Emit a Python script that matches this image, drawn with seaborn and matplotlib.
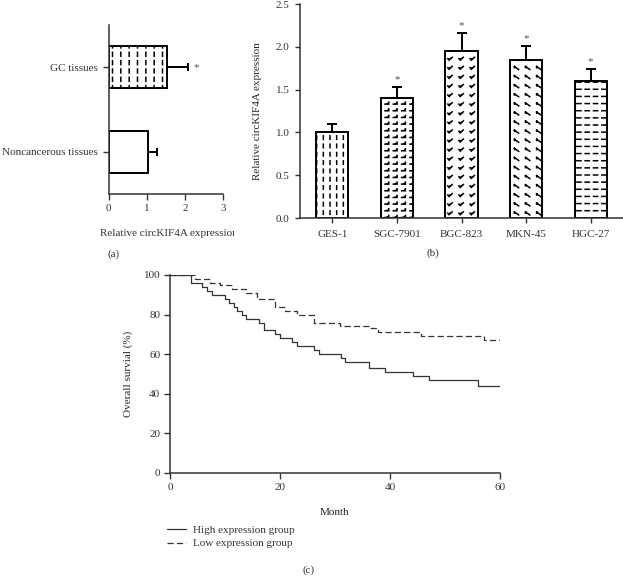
import matplotlib
matplotlib.use("Agg")
import matplotlib.pyplot as plt
import matplotlib.hatch as mhatch
from matplotlib.path import Path
from matplotlib.transforms import Bbox, TransformedBbox
import numpy as np
import pandas as pd
import seaborn as sns

# ---- data ----
tissues = ["GC tissues", "Noncancerous tissues"]
tissue_mean = [1.52, 1.04]
tissue_err = [0.55, 0.22]
tissue_star = [True, False]

cell_lines = ["GES-1", "SGC-7901", "BGC-823", "MKN-45", "HGC-27"]
cell_mean = [1.0, 1.40, 1.95, 1.85, 1.60]
cell_err = [0.10, 0.13, 0.21, 0.16, 0.14]
cell_star = [False, True, True, True, True]

high_month = [0, 3.8, 5.8, 6.7, 7.6, 10.0, 10.7, 11.7, 12.1, 13.0, 13.9, 16.1, 17.0,
              19.1, 20.0, 22.1, 23.0, 26.1, 27.0, 31.0, 31.9, 36.1, 39.1, 44.1, 47.0, 56.0, 60]
high_surv = [100, 96, 94, 92, 90, 88, 86, 84, 82, 80, 78, 76, 72,
             70, 68, 66, 64, 62, 60, 58, 56, 53, 51, 49, 47, 44, 44]
low_month = [0, 4.5, 7.2, 9.0, 11.3, 13.9, 15.8, 19.1, 20.9, 23.0, 26.1, 30.9, 36.1,
             37.9, 45.7, 57.0, 60]
low_surv = [100, 98, 96, 95, 93, 91, 88, 84, 82, 80, 76, 74, 73,
            71, 69, 67, 67]
groups = ["High expression group", "Low expression group"]


# ---- custom dash-like hatches (replace the built-in hatch set) ----
def make_hatch(char, ncols, nrows, strokes):
    class _Hatch(mhatch.HatchPatternBase):
        def __init__(self, hatch, density):
            self.num_vertices = 0
            if hatch and char in hatch:
                self.num_vertices = ncols * nrows * sum(len(s) for s in strokes)

        def set_vertices_and_codes(self, vertices, codes):
            vv, cc = [], []
            for i in range(ncols):
                for j in range(nrows):
                    for s in strokes:
                        for k, (u, v) in enumerate(s):
                            vv.append(((i + u) / ncols, (j + v) / nrows))
                            cc.append(Path.MOVETO if k == 0 else Path.LINETO)
            vertices[:] = vv
            codes[:] = cc
    return _Hatch


mhatch._hatch_types = [
    make_hatch("|", 12, 12, [[(0.5, 0.25), (0.5, 0.72)]]),                       # GC tissues
    make_hatch(".", 15, 12, [[(0.5, 0.28), (0.5, 0.7)]]),                        # GES-1
    make_hatch("+", 12, 15, [[(0.2, 0.38), (0.65, 0.38), (0.65, 0.68)]]),       # SGC-7901
    make_hatch("/", 9, 11, [[(0.3, 0.55), (0.42, 0.38), (0.7, 0.7)]]),          # BGC-823
    make_hatch("\\", 9, 11, [[(0.3, 0.68), (0.68, 0.35)], [(0.3, 0.68), (0.3, 0.55)]]),  # MKN-45
    make_hatch("-", 12, 14, [[(0.22, 0.5), (0.72, 0.5)]]),                       # HGC-27
]

sns.set_style("ticks")
plt.rcParams["font.family"] = ["Liberation Serif", "DejaVu Serif"]
plt.rcParams["hatch.linewidth"] = 1.1
plt.rcParams["axes.edgecolor"] = "#333333"
plt.rcParams["xtick.color"] = "#333333"
plt.rcParams["ytick.color"] = "#333333"
plt.rcParams["text.color"] = "#333333"

W, H = 623, 576
fig = plt.figure(figsize=(W / 100, H / 100), dpi=100)


def px_axes(left, top, right, bottom):
    return fig.add_axes([left / W, 1 - bottom / H, (right - left) / W, (bottom - top) / H])


fs = 8

# ---- (a) tissues ----
ax_a = px_axes(108.5, 25, 223, 194)
sns.barplot(x=tissue_mean, y=tissues, orient="h", color="white", edgecolor="black",
            linewidth=1.4, width=0.5, errorbar=None, ax=ax_a)
pos_a = np.arange(len(tissues))
ax_a.errorbar(tissue_mean, pos_a, xerr=[np.zeros(len(tissues)), tissue_err], fmt="none",
              ecolor="black", elinewidth=1.4, capsize=3, capthick=1.4)
for p, h in zip(ax_a.patches, ["|", ""]):
    p.set_hatch(h)
for i, s in enumerate(tissue_star):
    if s:
        ax_a.annotate("*", (tissue_mean[i] + tissue_err[i], pos_a[i]), xytext=(4, 0),
                      textcoords="offset points", ha="left", va="center", fontsize=fs, color="#555555")
ax_a.set_xlim(0, 3)
ax_a.set_ylim(1.5, -0.5)
ax_a.set_xticks([0, 1, 2, 3])
ax_a.set_xlabel("")
ax_a.set_ylabel("")
ax_a.tick_params(labelsize=fs, length=4, width=1, pad=3.5)
sns.despine(ax=ax_a)
for sp in ax_a.spines.values():
    sp.set_linewidth(1.1)

lab = fig.text(100 / W, 1 - 234 / H, "Relative circKIF4A expression", ha="left", va="center",
               fontsize=fs)
lab.set_clip_on(True)
lab.set_clip_box(TransformedBbox(Bbox.from_extents(0, 0, 234 / W, 1), fig.transFigure))
fig.text(114 / W, 1 - 254 / H, "(a)", ha="center", va="center", fontsize=fs)

# ---- (b) cell lines ----
ax_b = px_axes(300, 4, 623, 218)
sns.barplot(x=cell_lines, y=cell_mean, color="white", edgecolor="black", linewidth=1.4,
            width=0.5, errorbar=None, ax=ax_b)
pos_b = np.arange(len(cell_lines))
ax_b.errorbar(pos_b, cell_mean, yerr=[np.zeros(len(cell_lines)), cell_err], fmt="none",
              ecolor="black", elinewidth=1.4, capsize=3.5, capthick=1.4)
for p, h in zip(ax_b.patches, [".", "+", "/", "\\", "-"]):
    p.set_hatch(h)
for i, s in enumerate(cell_star):
    if s:
        ax_b.annotate("*", (pos_b[i], cell_mean[i] + cell_err[i]), xytext=(0, 2),
                      textcoords="offset points", ha="center", va="bottom", fontsize=fs, color="#555555")
ax_b.set_ylim(0, 2.5)
ax_b.set_xlim(-0.5, len(cell_lines) - 0.5)
ax_b.set_yticks([0, 0.5, 1.0, 1.5, 2.0, 2.5])
ax_b.set_yticklabels(["0.0", "0.5", "1.0", "1.5", "2.0", "2.5"])
ax_b.set_xlabel("")
ax_b.set_ylabel("Relative circKIF4A expression", fontsize=fs, labelpad=10)
ax_b.tick_params(labelsize=fs, length=3.5, width=1, pad=4)
ax_b.tick_params(axis="x", pad=5)
sns.despine(ax=ax_b)
for sp in ax_b.spines.values():
    sp.set_linewidth(1.1)
fig.text(433 / W, 1 - 253 / H, "(b)", ha="center", va="center", fontsize=fs)

# ---- (c) survival ----
ax_c = px_axes(170, 275, 500, 473)
surv = pd.DataFrame({
    "Month": high_month + low_month,
    "Survival": high_surv + low_surv,
    "group": [groups[0]] * len(high_month) + [groups[1]] * len(low_month),
})
sns.lineplot(data=surv, x="Month", y="Survival", style="group", style_order=groups,
             dashes=["", (5, 2.5)], color="#333333", linewidth=0.9, estimator=None,
             sort=False, drawstyle="steps-post", legend=False, ax=ax_c)
ax_c.set_xlim(0, 60)
ax_c.set_ylim(0, 100)
ax_c.set_xticks([0, 20, 40, 60])
ax_c.set_yticks([0, 20, 40, 60, 80, 100])
ax_c.set_xlabel("Month", fontsize=fs, labelpad=12)
ax_c.set_ylabel("Overall survial (%)", fontsize=fs, labelpad=8)
ax_c.tick_params(labelsize=fs, length=4, width=1, pad=3)
sns.despine(ax=ax_c)
for sp in ax_c.spines.values():
    sp.set_linewidth(1.1)
fig.legend(ax_c.get_lines()[:2], groups, loc="upper left",
           bbox_to_anchor=(167 / W, 1 - 525 / H), frameon=False, fontsize=fs,
           handlelength=1.7, handletextpad=0.6, labelspacing=0.35,
           borderpad=0, borderaxespad=0)
fig.text(309 / W, 1 - 570 / H, "(c)", ha="center", va="center", fontsize=fs)

fig.savefig("out.png", dpi=100)
